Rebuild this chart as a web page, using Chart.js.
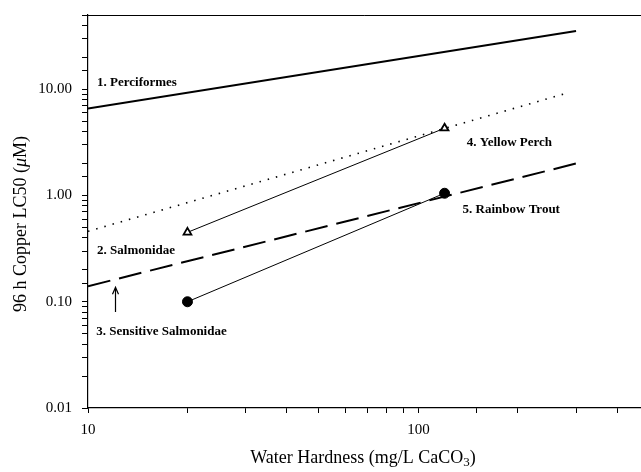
<!DOCTYPE html>
<html lang="en">
<head>
    <meta charset="UTF-8">
    <title>Copper LC50 vs water hardness</title>
    <style>
        html, body { margin: 0; padding: 0; background: #fff; overflow: hidden; }
        canvas { display: block; }
    </style>
</head>
<body>
    <!-- the plot runs off the right edge in the original figure, so the canvas is a bit wider than the page -->
    <canvas id="c" width="648" height="472"></canvas>
<script src="https://cdn.jsdelivr.net/npm/chart.js@4/dist/chart.umd.min.js"></script>
<script>
    // hardness (mg/L CaCO3) and LC50 (uM)
    const perciformesX = [10, 300];
    const perciformesY = [6.6, 35.4];
    const salmonidaeX = [10, 285];
    const salmonidaeY = [0.46, 9.3];
    const sensitiveX = [10, 300];
    const sensitiveY = [0.14, 2.0];
    const perchX = [20, 120];
    const perchY = [0.45, 4.3];
    const troutX = [20, 120];
    const troutY = [0.10, 1.05];

    const yTickLabels = [0.01, 0.1, 1, 10];
    const xTickLabels = [10, 100];

    // text labels: [text, x value, y value]
    const seriesLabels = [
        ['1. Perciformes', 10.65, 11.5],
        ['2. Salmonidae', 10.65, 0.30],
        ['3. Sensitive Salmonidae', 10.6, 0.052],
        ['4. Yellow Perch', 140, 3.15],
        ['5. Rainbow Trout', 136, 0.74]
    ];
    // arrow pointing to the sensitive salmonidae line
    const arrowX = 12.07;
    const arrowY = [0.08, 0.137];

    const pts = (xs, ys) => xs.map((x, i) => ({ x: x, y: ys[i] }));
    const serif = 'Liberation Serif, Times New Roman, serif';
    const isDecade = v => Math.abs(Math.log10(v) - Math.round(Math.log10(v))) < 1e-6;

    const extras = {
        id: 'extras',
        afterDraw(chart) {
            const ctx = chart.ctx;
            const xs = chart.scales.x, ys = chart.scales.y;
            const area = chart.chartArea;
            ctx.save();
            // top frame line
            ctx.strokeStyle = '#000';
            ctx.lineWidth = 1;
            ctx.beginPath();
            ctx.moveTo(area.left, area.top + 0.5);
            ctx.lineTo(area.right, area.top + 0.5);
            ctx.stroke();

            // series labels
            ctx.fillStyle = '#000';
            ctx.font = 'bold 13px ' + serif;
            ctx.textBaseline = 'middle';
            ctx.textAlign = 'left';
            seriesLabels.forEach(l => {
                ctx.fillText(l[0], xs.getPixelForValue(l[1]), ys.getPixelForValue(l[2]));
            });

            // arrow
            const ax = Math.round(xs.getPixelForValue(arrowX)) + 0.5;
            const y0 = ys.getPixelForValue(arrowY[0]);
            const y1 = ys.getPixelForValue(arrowY[1]);
            ctx.lineWidth = 1.2;
            ctx.beginPath();
            ctx.moveTo(ax, y0);
            ctx.lineTo(ax, y1);
            ctx.moveTo(ax - 3, y1 + 7);
            ctx.lineTo(ax, y1);
            ctx.lineTo(ax + 3, y1 + 7);
            ctx.stroke();

            // y title
            ctx.save();
            ctx.translate(21, 224);
            ctx.rotate(-Math.PI / 2);
            ctx.font = '18px ' + serif;
            const a = '96 h Copper LC50 (', mu = '\u03bc', b = 'M)';
            const wa = ctx.measureText(a).width;
            ctx.font = 'italic 18px ' + serif;
            const wm = ctx.measureText(mu).width;
            ctx.font = '18px ' + serif;
            const wb = ctx.measureText(b).width;
            let sx = -(wa + wm + wb) / 2;
            ctx.textAlign = 'left';
            ctx.fillText(a, sx, 0);
            ctx.font = 'italic 18px ' + serif;
            ctx.fillText(mu, sx + wa, 0);
            ctx.font = '18px ' + serif;
            ctx.fillText(b, sx + wa + wm, 0);
            ctx.restore();

            // x title with subscript
            ctx.font = '18px ' + serif;
            const t1 = 'Water Hardness (mg/L CaCO', t2 = '3', t3 = ')';
            const w1 = ctx.measureText(t1).width;
            ctx.font = '13px ' + serif;
            const w2 = ctx.measureText(t2).width;
            ctx.font = '18px ' + serif;
            const w3 = ctx.measureText(t3).width;
            let tx = 363 - (w1 + w2 + w3) / 2;
            ctx.textAlign = 'left';
            ctx.fillText(t1, tx, 458);
            ctx.font = '13px ' + serif;
            ctx.fillText(t2, tx + w1, 463);
            ctx.font = '18px ' + serif;
            ctx.fillText(t3, tx + w1 + w2, 458);
            ctx.restore();
        }
    };

    new Chart(document.getElementById('c'), {
        type: 'scatter',
        data: {
            datasets: [
                {
                    label: 'Perciformes',
                    data: pts(perciformesX, perciformesY),
                    showLine: true,
                    borderColor: '#000',
                    borderWidth: 2,
                    pointRadius: 0
                },
                {
                    label: 'Salmonidae',
                    data: pts(salmonidaeX, salmonidaeY),
                    showLine: true,
                    borderColor: '#000',
                    borderWidth: 1.6,
                    borderDash: [1.5, 7],
                    pointRadius: 0
                },
                {
                    label: 'Sensitive Salmonidae',
                    data: pts(sensitiveX, sensitiveY),
                    showLine: true,
                    borderColor: '#000',
                    borderWidth: 2,
                    borderDash: [23, 9],
                    pointRadius: 0
                },
                {
                    label: 'Yellow Perch',
                    data: pts(perchX, perchY),
                    showLine: true,
                    borderColor: '#000',
                    borderWidth: 1,
                    pointStyle: 'triangle',
                    pointRadius: 4.5,
                    pointBorderWidth: 1.8,
                    pointBackgroundColor: '#fff',
                    pointBorderColor: '#000'
                },
                {
                    label: 'Rainbow Trout',
                    data: pts(troutX, troutY),
                    showLine: true,
                    borderColor: '#000',
                    borderWidth: 1,
                    pointStyle: 'circle',
                    pointRadius: 5,
                    pointBackgroundColor: '#000',
                    pointBorderColor: '#000'
                }
            ]
        },
        options: {
            responsive: false,
            animation: false,
            events: [],
            layout: { padding: { top: 15, right: 0, left: 0, bottom: 0 } },
            plugins: { legend: { display: false }, tooltip: { enabled: false } },
            scales: {
                x: {
                    type: 'logarithmic',
                    min: 10,
                    max: 474,
                    afterFit: s => { s.height = 64; s.paddingLeft = 0; s.paddingRight = 0; },
                    border: { color: '#000', width: 1.2 },
                    grid: { drawOnChartArea: false, tickLength: 5, tickColor: '#000' },
                    ticks: {
                        autoSkip: false,
                        maxRotation: 0,
                        padding: 8,
                        color: '#000',
                        font: { family: serif, size: 15 },
                        callback: v => xTickLabels.some(t => Math.abs(t - v) < 1e-6) ? String(v) : ''
                    }
                },
                y: {
                    type: 'logarithmic',
                    min: 0.01,
                    max: 50,
                    afterFit: s => { s.width = 88; s.paddingTop = 0; s.paddingBottom = 0; },
                    border: { color: '#000', width: 1.2 },
                    grid: { drawOnChartArea: false, tickLength: 6, tickColor: '#000' },
                    ticks: {
                        autoSkip: false,
                        padding: 10,
                        color: '#000',
                        font: { family: serif, size: 15 },
                        callback: v => (isDecade(v) && yTickLabels.some(t => Math.abs(t - v) / t < 1e-6)) ? Number(v).toFixed(2) : ''
                    }
                }
            }
        },
        plugins: [extras]
    });
</script>
</body>
</html>
